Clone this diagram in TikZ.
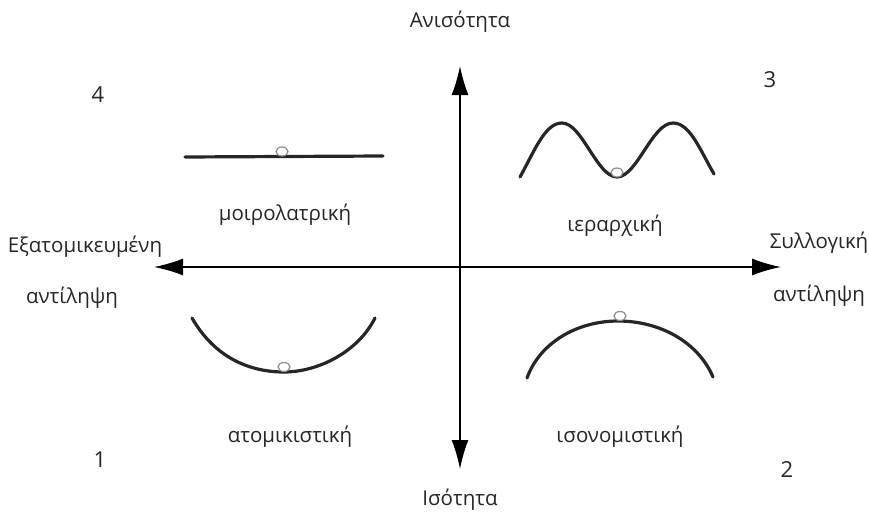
\documentclass[tikz,border=0pt]{standalone}
\usepackage{fontspec}
\setmainfont{Open Sans}
\usetikzlibrary{arrows.meta}
\begin{document}
\begin{tikzpicture}[x=1pt,y=-1pt,
  lbl/.style={font=\fontsize{20.5}{22}\selectfont, text=black!85, inner sep=0pt},
  num/.style={font=\fontsize{22}{24}\selectfont, text=black!85, inner sep=0pt},
  axis/.style={line width=1.6pt, -{Latex[length=29pt,width=17pt]}},
  curve/.style={line width=3.2pt, line cap=round, black!85},
  ball/.style={draw=black!45, line width=1.2pt, fill=white}]
\useasboundingbox (0,0) rectangle (869,519);
% axes
\coordinate (c) at (460,267);
\coordinate (top) at (460,66);
\coordinate (bot) at (460,469);
\coordinate (lft) at (154,267);
\coordinate (rgt) at (781,267);
\draw[axis] (c) -- (top);
\draw[axis] (c) -- (bot);
\draw[axis] (c) -- (lft);
\draw[axis] (c) -- (rgt);
% axis labels
\node[lbl] (an) at (460,22) {Ανισότητα};
\node[lbl] (is) at (460,500) {Ισότητα};
\node[lbl] (ex) at (85,247) {Εξατομικευμένη};
\node[lbl] (ex2) at (72,298) {αντίληψη};
\node[lbl] (sy) at (819,243) {Συλλογική};
\node[lbl] (sy2) at (819,296) {αντίληψη};
% numbers
\node[num] (n4) at (98,95) {4};
\node[num] (n3) at (770,80) {3};
\node[num] (n1) at (100,460) {1};
\node[num] (n2) at (787,470) {2};
% quadrant labels
\node[lbl] (q4) at (285,215) {μοιρολατρική};
\node[lbl] (q3) at (615,226) {ιεραρχική};
\node[lbl] (q1) at (290,437) {ατομικιστική};
\node[lbl] (q2) at (620,437) {ισονομιστική};
% curves
\draw[curve] (185,157) -- (383,156);
\draw[ball] (282,151.5) ellipse (6pt and 4.5pt);
\draw[curve] (520,177) .. controls (535,150) and (545,123) .. (562,123)
  .. controls (582,123) and (597,177) .. (617,177)
  .. controls (637,177) and (652,123) .. (673,123)
  .. controls (690,123) and (700,150) .. (714,174);
\draw[ball] (617,172.5) ellipse (6pt and 4.5pt);
\draw[curve] (192,318) .. controls (215,358) and (250,372) .. (284,372)
  .. controls (318,372) and (358,352) .. (375,318);
\draw[ball] (284,367) ellipse (6pt and 4.5pt);
\draw[curve] (527,378) .. controls (540,342) and (578,321) .. (618,321)
  .. controls (660,321) and (698,342) .. (713,377);
\draw[ball] (620,316) ellipse (6pt and 4.5pt);
\end{tikzpicture}
\end{document}
